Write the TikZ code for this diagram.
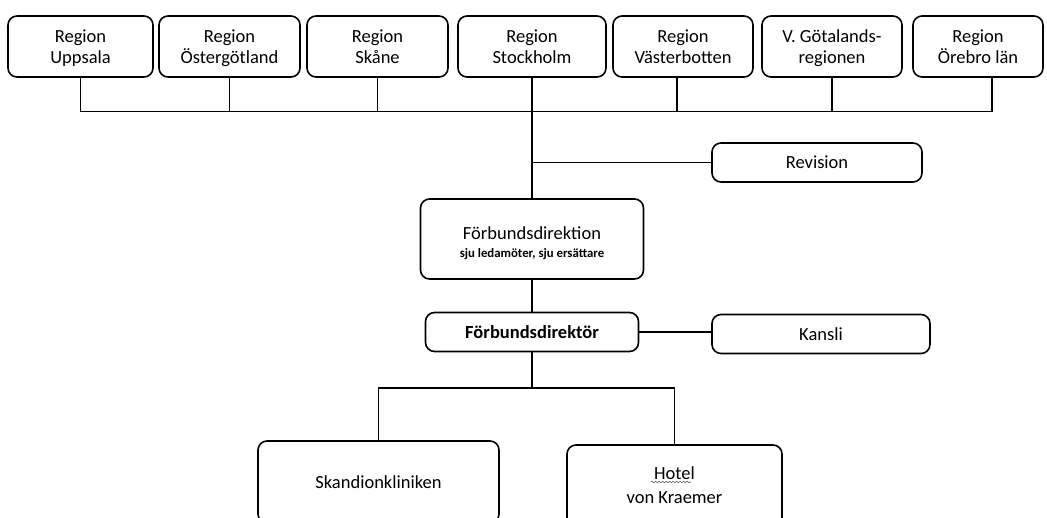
\documentclass[tikz,border=0pt]{standalone}
\usepackage{fontspec}
\setmainfont{Carlito}
\usetikzlibrary{decorations.pathmorphing}
\newcommand\toph{\rule{0pt}{19.3pt}}
\newcommand\botd{\rule[-6.3pt]{0pt}{6.3pt}}
\tikzset{
  box/.style={draw, rounded corners=9pt, line width=1.6pt, align=center, inner sep=0pt,
    minimum height=61pt, font=\fontsize{18.5}{21}\selectfont},
  conn/.style={line width=1.6pt},
}
\begin{document}
\begin{tikzpicture}[x=1pt,y=-1pt]
\useasboundingbox (0,0) rectangle (1047,517);
\clip (0,0) rectangle (1047,517);
\fill[white] (0,0) rectangle (1047,517);
% top row
\node[box, minimum width=145pt] (u)  at (80.5,46.5) {\toph Region\\Uppsala\botd};
\node[box, minimum width=141pt] (og) at (229.5,46.5) {\toph Region\\Östergötland\botd};
\node[box, minimum width=141pt] (sk) at (377.5,46.5) {\toph Region\\Skåne\botd};
\node[box, minimum width=148pt] (st) at (532,46.5) {\toph Region\\Stockholm\botd};
\node[box, minimum width=140pt] (vb) at (683,46.5) {\toph Region\\Västerbotten\botd};
\node[box, minimum width=140pt] (vg) at (832,46.5) {\toph V. Götalands-\\regionen\botd};
\node[box, minimum width=130pt] (oe) at (978,46.5) {\toph Region\\Örebro län\botd};
\coordinate (bus) at (0,111.5);
% middle
\node[box, minimum width=210pt, minimum height=39pt] (rev) at (817,162.5) {Revision};
\node[box, minimum width=223pt, minimum height=80pt, font=\fontsize{18.5}{18}\selectfont] (fd) at (532,239)
  {\rule{0pt}{22.7pt}Förbundsdirektion\\{\fontsize{12.8}{18}\selectfont\bfseries sju ledamöter, sju ersättare\rule[-4pt]{0pt}{4pt}}};
\node[box, minimum width=213pt, minimum height=39pt, font=\fontsize{18.5}{21}\selectfont\bfseries] (fdr) at (532,332) {Förbundsdirektör};
\node[box, minimum width=218pt, minimum height=39pt] (ka) at (821,334) {Kansli};
\coordinate (br) at (532,388);
% bottom
\node[box, minimum width=241pt, minimum height=82pt] (skc) at (378.5,482) {Skandionkliniken};
\node[box, minimum width=215pt, minimum height=84pt, font=\fontsize{18.5}{24}\selectfont] (hot) at (674.5,487)
  {\rule{0pt}{13pt}Hotel\\von Kraemer\rule[-5pt]{0pt}{5pt}};
% connectors
\draw[conn] (u.south) |- ([xshift=14pt]oe.south |- bus) -- ([xshift=14pt]oe.south);
\draw[conn] (og.south) -- (og.south |- bus);
\draw[conn] (sk.south) -- (sk.south |- bus);
\draw[conn] ([xshift=-6pt]vb.south) -- ([xshift=-6pt]vb.south |- bus);
\draw[conn] (vg.south) -- (vg.south |- bus);
\draw[conn] (st.south) -- (fd.north);
\draw[conn] (rev.west) -- (rev.west -| st.south);
\draw[conn] (fd.south) -- (fdr.north);
\draw[conn] (fdr.east) -- (fdr.east -| ka.west);
\draw[conn] (fdr.south) -- (br);
\draw[conn] (skc.north) |- (hot.north |- br) -- (hot.north);
% spell-check underline
\draw[decorate, decoration={snake, amplitude=0.8pt, segment length=3.5pt}, gray!70!black, line width=0.6pt]
  ([xshift=-23.5pt, yshift=5pt]hot.center) -- ++(40,0);
\end{tikzpicture}
\end{document}
